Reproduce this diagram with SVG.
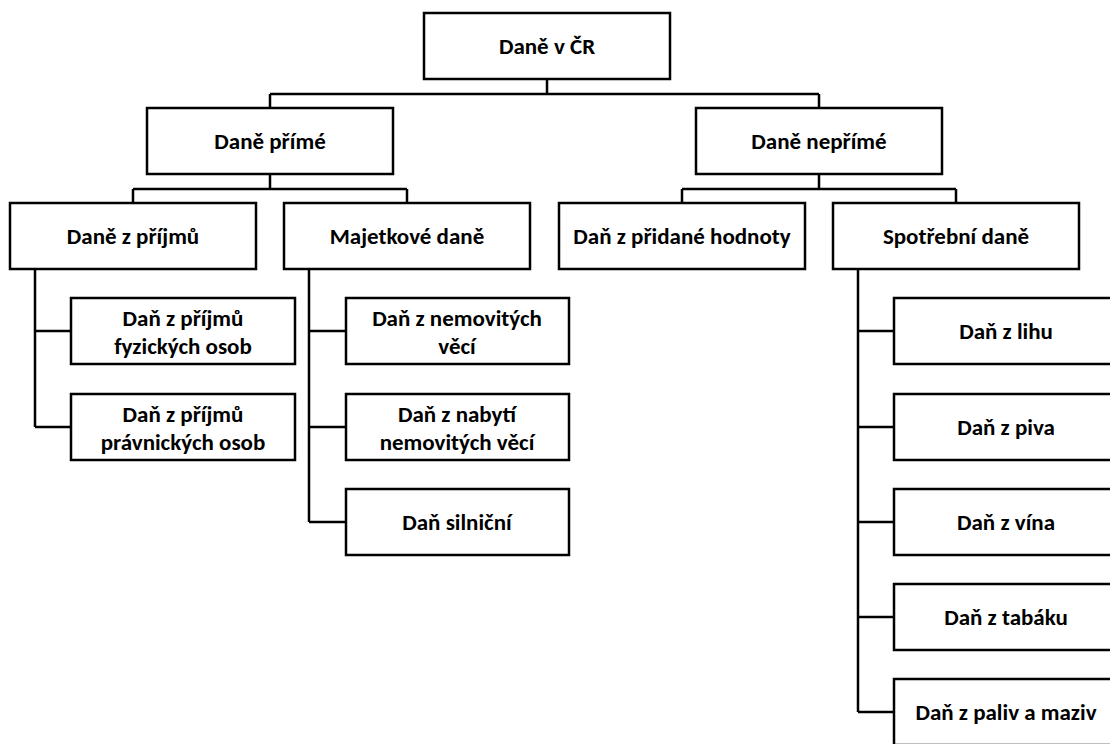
<svg xmlns="http://www.w3.org/2000/svg" width="1110" height="744" viewBox="0 0 1110 744">
<style>
.box{fill:#fff;stroke:#000;stroke-width:2.5}
.lbl{font-family:Carlito,Calibri,Lato,"Liberation Sans",sans-serif;font-weight:bold;font-size:23px;fill:#000;text-anchor:middle}
.con{fill:none;stroke:#000;stroke-width:2.5}
</style>
<rect width="1110" height="744" fill="#fff"/>
<g id="connectors" class="con">
<path d="M547,79V94M270,94H819M270,94V108M819,94V108"/>
<path d="M270,174V189M133,189H407M133,189V203M407,189V203"/>
<path d="M819,174V189M682,189H956M682,189V203M956,189V203"/>
<path d="M35,269V427M35,331H71M35,427H71"/>
<path d="M309,269V522M309,331H346M309,427H346M309,522H346"/>
<path d="M858,269V712M858,331H894M858,427H894M858,522H894M858,617H894M858,712H894"/>
</g>
<g id="n-root"><rect class="box" x="424" y="13" width="246" height="66"/><text class="lbl" x="547" y="54">Daně v ČR</text></g>
<g id="n-prime"><rect class="box" x="147" y="108" width="246" height="66"/><text class="lbl" x="270" y="149">Daně přímé</text></g>
<g id="n-neprime"><rect class="box" x="696" y="108" width="246" height="66"/><text class="lbl" x="819" y="149">Daně nepřímé</text></g>
<g id="n-prijmy"><rect class="box" x="10" y="203" width="246" height="66"/><text class="lbl" x="133" y="244">Daně z příjmů</text></g>
<g id="n-majetek"><rect class="box" x="284" y="203" width="246" height="66"/><text class="lbl" x="407" y="244">Majetkové daně</text></g>
<g id="n-dph"><rect class="box" x="559" y="203" width="246" height="66"/><text class="lbl" x="682" y="244">Daň z přidané hodnoty</text></g>
<g id="n-spotreba"><rect class="box" x="833" y="203" width="246" height="66"/><text class="lbl" x="956" y="244">Spotřební daně</text></g>
<g id="n-fo"><rect class="box" x="71" y="298" width="224" height="66"/><text class="lbl" x="183" y="326">Daň z příjmů<tspan x="183" dy="28">fyzických osob</tspan></text></g>
<g id="n-po"><rect class="box" x="71" y="394" width="224" height="66"/><text class="lbl" x="183" y="422">Daň z příjmů<tspan x="183" dy="28">právnických osob</tspan></text></g>
<g id="n-nemovitosti"><rect class="box" x="346" y="298" width="223" height="66"/><text class="lbl" x="457" y="326">Daň z nemovitých<tspan x="457" dy="28">věcí</tspan></text></g>
<g id="n-nabyti"><rect class="box" x="346" y="394" width="223" height="66"/><text class="lbl" x="457" y="422">Daň z nabytí<tspan x="457" dy="28">nemovitých věcí</tspan></text></g>
<g id="n-silnicni"><rect class="box" x="346" y="489" width="223" height="66"/><text class="lbl" x="457" y="530">Daň silniční</text></g>
<g id="n-lih"><rect class="box" x="894" y="298" width="224" height="66"/><text class="lbl" x="1006" y="339">Daň z lihu</text></g>
<g id="n-pivo"><rect class="box" x="894" y="394" width="224" height="66"/><text class="lbl" x="1006" y="435">Daň z piva</text></g>
<g id="n-vino"><rect class="box" x="894" y="489" width="224" height="66"/><text class="lbl" x="1006" y="530">Daň z vína</text></g>
<g id="n-tabak"><rect class="box" x="894" y="584" width="224" height="66"/><text class="lbl" x="1006" y="625">Daň z tabáku</text></g>
<g id="n-paliva"><rect class="box" x="894" y="679" width="224" height="66"/><text class="lbl" x="1006" y="720">Daň z paliv a maziv</text></g>
</svg>
